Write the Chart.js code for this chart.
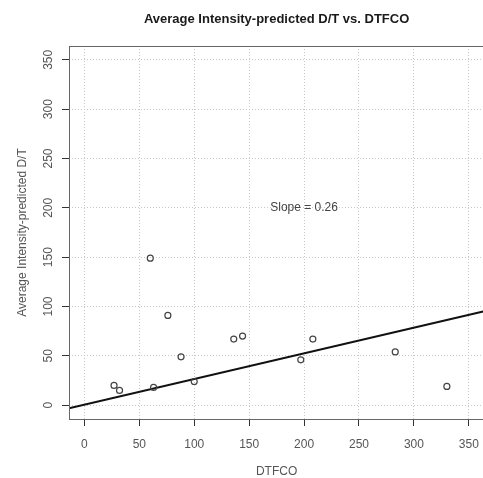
<!DOCTYPE html>
<html>
<head>
<meta charset="utf-8">
<script src="https://cdn.jsdelivr.net/npm/chart.js@4/dist/chart.umd.min.js"></script>
<style>
  html, body { margin: 0; padding: 0; background: #fff; overflow: hidden; }
  #wrap { width: 490px; height: 478px; }
</style>
</head>
<body>
<div id="wrap"><canvas id="dtChart" width="490" height="478"></canvas></div>
<script>
// observed points
const dtfco = [27, 32, 60, 63, 76, 88, 100, 136, 144, 197, 208, 283, 330];
const avgDT = [20, 15, 149, 18, 91, 49, 24, 67, 70, 46, 67, 54, 19];

// axis setup
const xTicks = [0, 50, 100, 150, 200, 250, 300, 350];
const yTicks = [0, 50, 100, 150, 200, 250, 300, 350];
const axisRange = [-14, 364];

// fitted line
const slope = 0.26;
const intercept = 0.5;
const slopeLabel = 'Slope = 0.26';
const slopeLabelAt = [200, 200];

const FONT = "'Liberation Sans', Arial, sans-serif";
const LABEL_COLOR = '#555';

const fitLine = axisRange.map(x => ({ x: x, y: intercept + slope * x }));
const points = dtfco.map((x, i) => ({ x: x, y: avgDT[i] }));

// box, rotated y tick labels, slope note and main title
const extras = {
  id: 'extras',
  afterDraw(chart) {
    const { ctx, chartArea: a, scales: { x, y } } = chart;
    ctx.save();

    ctx.strokeStyle = '#666';
    ctx.lineWidth = 1;
    ctx.strokeRect(a.left + 0.5, a.top + 0.5, a.right - a.left, a.bottom - a.top);

    ctx.fillStyle = LABEL_COLOR;
    ctx.font = '12px ' + FONT;
    ctx.textAlign = 'center';
    ctx.textBaseline = 'middle';
    yTicks.forEach(v => {
      ctx.save();
      ctx.translate(49, y.getPixelForValue(v));
      ctx.rotate(-Math.PI / 2);
      ctx.fillText(String(v), 0, 0);
      ctx.restore();
    });

    ctx.fillStyle = '#444';
    ctx.fillText(slopeLabel, x.getPixelForValue(slopeLabelAt[0]), y.getPixelForValue(slopeLabelAt[1]));

    ctx.fillStyle = '#1a1a1a';
    ctx.font = 'bold 13px ' + FONT;
    ctx.fillText('Average Intensity-predicted D/T vs. DTFCO', (a.left + a.right) / 2, 19);
    ctx.restore();
  }
};

new Chart(document.getElementById('dtChart').getContext('2d'), {
  type: 'scatter',
  data: {
    datasets: [
      {
        data: points,
        pointStyle: 'circle',
        pointRadius: 3,
        pointBorderWidth: 1.2,
        pointBorderColor: '#444',
        pointBackgroundColor: 'rgba(0,0,0,0)'
      },
      {
        data: fitLine,
        showLine: true,
        borderColor: '#111',
        borderWidth: 2,
        pointRadius: 0
      }
    ]
  },
  options: {
    responsive: false,
    animation: false,
    layout: { autoPadding: false, padding: { top: 46, right: 4, left: 0, bottom: 0 } },
    plugins: { legend: { display: false }, tooltip: { enabled: false } },
    scales: {
      x: {
        type: 'linear',
        min: axisRange[0],
        max: axisRange[1],
        afterBuildTicks: s => { s.ticks = xTicks.map(v => ({ value: v })); },
        afterFit: s => { s.height = 59; },
        border: { display: false, dash: [1, 2] },
        grid: { color: '#c8c8c8', lineWidth: 1, tickColor: '#333', tickLength: 7, tickBorderDash: [] },
        ticks: { color: LABEL_COLOR, font: { family: FONT, size: 12 }, padding: 11, maxRotation: 0 },
        title: { display: true, text: 'DTFCO', color: LABEL_COLOR, font: { family: FONT, size: 12, lineHeight: 1 }, padding: { top: 0, bottom: 0 } }
      },
      y: {
        type: 'linear',
        min: axisRange[0],
        max: axisRange[1],
        afterBuildTicks: s => { s.ticks = yTicks.map(v => ({ value: v })); },
        afterFit: s => { s.width = 69; },
        border: { display: false, dash: [1, 2] },
        grid: { color: '#c8c8c8', lineWidth: 1, tickColor: '#333', tickLength: 7, tickBorderDash: [] },
        ticks: { display: false },
        title: { display: true, text: 'Average Intensity-predicted D/T', color: LABEL_COLOR, font: { family: FONT, size: 12 }, padding: { top: 15, bottom: 0 } }
      }
    }
  },
  plugins: [extras]
});
</script>
</body>
</html>
